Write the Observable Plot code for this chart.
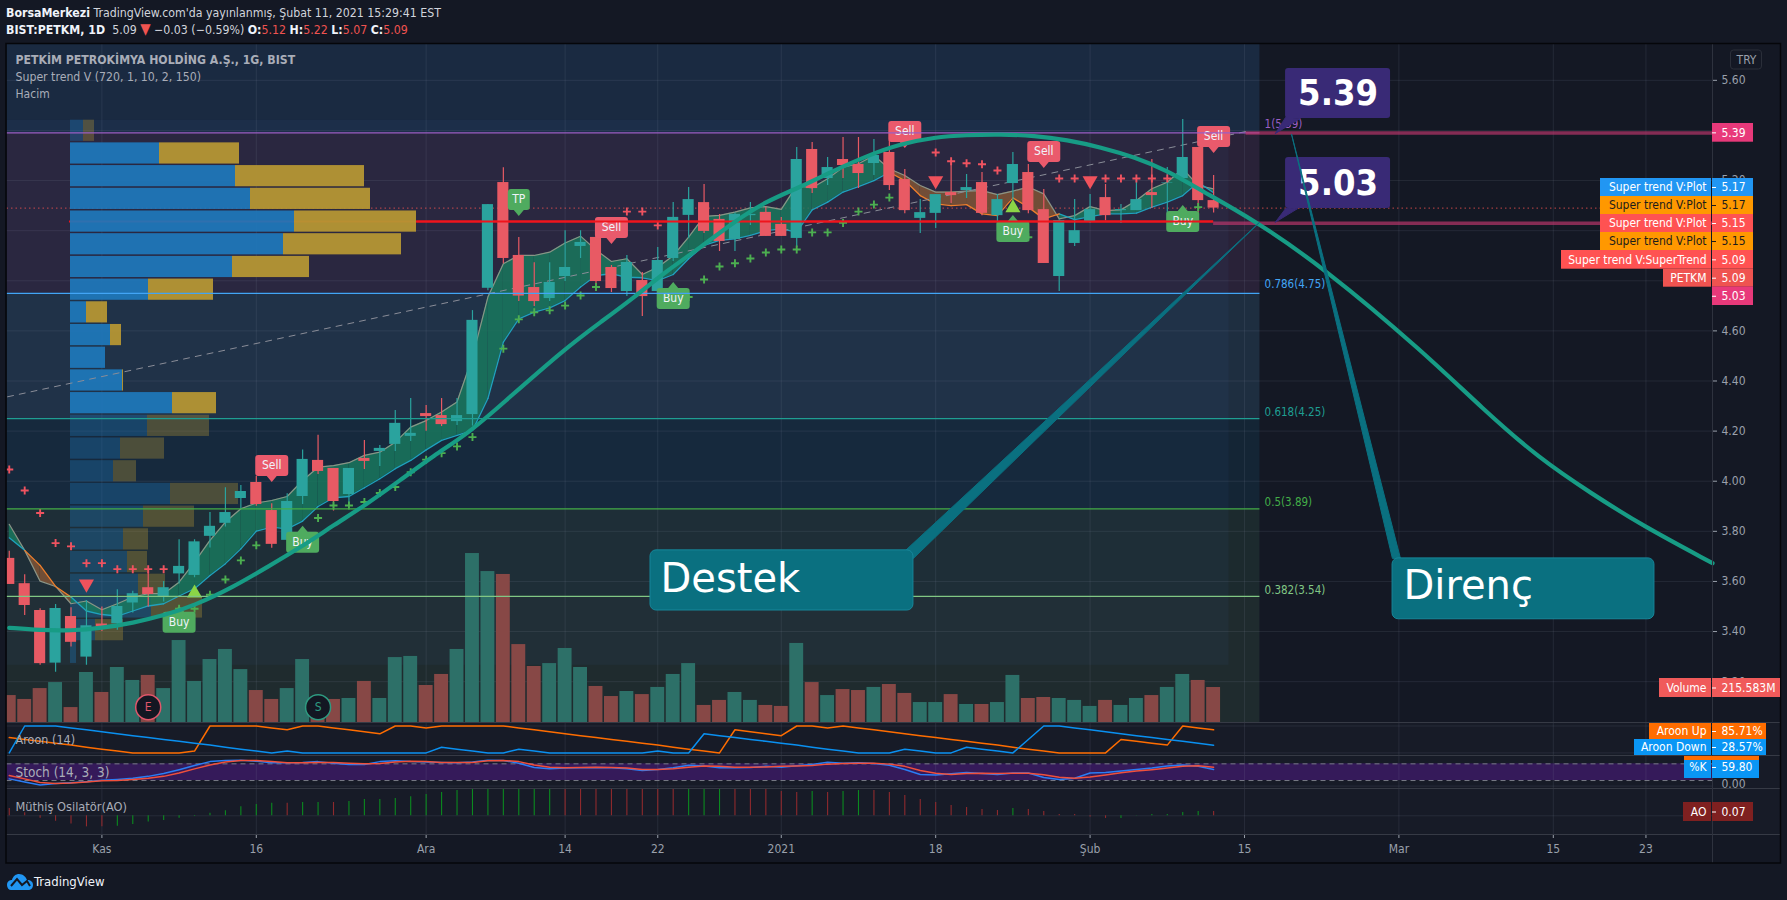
<!DOCTYPE html>
<html><head><meta charset="utf-8">
<script src="https://cdn.jsdelivr.net/npm/d3@7"></script>
<script src="https://cdn.jsdelivr.net/npm/@observablehq/plot@0.6"></script>
<style>
html,body{margin:0;padding:0;background:#141824;overflow:hidden;width:1787px;height:900px}
#stage{position:relative;width:1787px;height:900px;font-family:'DejaVu Sans Condensed','DejaVu Sans',sans-serif}
#stage>svg{position:absolute;left:0;top:0;max-width:none}
.hd{position:absolute;left:6px;font-size:12.25px;color:#d1d4dc;white-space:pre;line-height:16px}
.hd b{color:#f0f3fa;font-weight:700}.hd i{font-style:normal;color:#ef5350}.hd i.t{font-size:15px;line-height:10px}
</style></head><body><div id="stage"></div>
<script>
const barIndex = d3.range(-6, 73);
const open = [3.692,3.591,3.484,3.274,3.46,3.298,3.43,3.431,3.514,3.575,3.54,3.63,3.624,3.78,3.832,3.931,3.995,3.883,3.764,3.939,4.083,4.051,3.947,4.091,4.119,4.147,4.179,4.27,4.262,4.238,4.266,4.77,5.192,4.901,4.773,4.729,4.817,4.937,4.973,4.853,4.757,4.801,4.757,4.889,5.061,5.112,5.045,4.965,5.06,5.073,5.025,4.969,5.324,5.208,5.284,5.264,5.268,5.312,5.204,5.049,5.069,5.152,5.16,5.192,5.06,5.188,5.232,5.084,4.817,4.949,5.037,5.132,5.08,5.08,5.152,5.19,5.208,5.332,5.12];
const high = [3.72,3.627,3.491,3.508,3.495,3.524,3.498,3.567,3.561,3.647,3.6,3.766,3.766,3.875,3.974,3.983,4.019,3.91,3.95,4.125,4.183,4.051,4.051,4.163,4.143,4.282,4.33,4.302,4.33,4.33,4.681,5.104,5.251,4.973,4.872,4.872,5,5,4.98,4.861,4.901,4.833,4.933,5.112,5.172,5.184,5.065,5.07,5.112,5.093,5.053,5.332,5.352,5.292,5.372,5.372,5.364,5.36,5.244,5.124,5.144,5.28,5.224,5.232,5.144,5.312,5.264,5.164,5.044,5.124,5.144,5.184,5.104,5.208,5.284,5.252,5.444,5.332,5.22];
const low = [3.588,3.464,3.265,3.238,3.338,3.265,3.4,3.405,3.474,3.498,3.518,3.59,3.615,3.733,3.817,3.886,3.9,3.732,3.764,3.907,4.027,3.881,3.903,4.047,4.059,4.119,4.159,4.199,4.218,4.222,4.22,4.76,4.868,4.717,4.697,4.717,4.797,4.889,4.785,4.753,4.737,4.657,4.75,4.877,4.969,4.989,4.917,4.917,5.021,4.977,4.977,4.933,5.148,5.18,5.208,5.168,5.22,5.16,5.068,4.989,5.009,5.108,5.128,5.06,5,5.12,5.068,4.869,4.757,4.937,5.03,5.04,5.029,5.08,5.088,5.04,5.2,5.04,5.07];
const close = [3.588,3.504,3.272,3.492,3.357,3.423,3.418,3.5,3.551,3.548,3.575,3.66,3.758,3.82,3.875,3.959,3.907,3.748,3.919,4.087,4.039,3.919,4.051,4.079,4.131,4.231,4.191,4.258,4.226,4.262,4.642,5.104,4.889,4.739,4.717,4.793,4.853,4.953,4.797,4.769,4.873,4.737,4.881,5.053,5.124,4.997,4.957,5.065,5.065,4.977,4.977,5.284,5.168,5.252,5.26,5.228,5.3,5.18,5.08,5.072,5.144,5.14,5.172,5.069,5.124,5.264,5.08,4.869,5.04,5,5.084,5.06,5.084,5.124,5.14,5.192,5.292,5.12,5.09];
const trendFast = [3.828,3.724,3.601,3.58,3.511,3.522,3.487,3.511,3.538,3.551,3.551,3.597,3.677,3.764,3.837,3.89,3.913,3.923,3.939,4.003,4.056,4.062,4.074,4.103,4.116,4.156,4.216,4.242,4.276,4.316,4.495,4.735,4.868,4.901,4.901,4.914,4.951,4.978,4.923,4.877,4.888,4.825,4.854,4.9,4.974,5.057,5.061,5.074,5.091,5.096,5.085,5.18,5.171,5.207,5.253,5.267,5.3,5.247,5.22,5.18,5.154,5.154,5.158,5.16,5.144,5.158,5.174,5.147,5.047,5.06,5.096,5.08,5.083,5.12,5.167,5.193,5.247,5.18,5.167];
const trendSlow = [3.774,3.724,3.664,3.58,3.538,3.482,3.468,3.462,3.482,3.502,3.511,3.542,3.571,3.624,3.671,3.73,3.801,3.817,3.81,3.841,3.899,3.934,3.939,3.974,4.01,4.05,4.083,4.125,4.163,4.183,4.203,4.33,4.555,4.648,4.675,4.692,4.721,4.775,4.821,4.828,4.814,4.812,4.801,4.825,4.888,4.941,4.961,4.967,4.981,5,5.007,4.994,5.083,5.114,5.154,5.176,5.2,5.233,5.2,5.14,5.107,5.1,5.104,5.067,5.06,5.131,5.094,5.047,5.067,5.044,5.056,5.067,5.067,5.07,5.094,5.114,5.14,5.193,5.151];
const volumeM = [166,142,209,246,92,308,185,339,259,290,209,505,253,388,450,326,197,142,209,388,37,142,148,253,148,400,407,228,296,450,1041,930,912,480,345,363,456,339,222,160,191,172,216,296,363,105,136,185,136,105,99,487,246,166,203,197,216,234,179,123,123,172,111,111,123,290,148,154,148,136,99,136,105,148,166,216,296,259,215.583];
const aroonUp = [57,50,43,36,29,21,14,7,0,0,0,0,7,100,100,100,100,93,86,100,100,93,86,79,71,100,100,93,100,100,100,100,100,93,86,79,71,64,57,50,43,36,29,21,14,7,0,86,79,71,64,100,100,93,100,93,86,79,71,64,57,50,43,36,29,21,14,7,0,0,0,0,50,43,36,29,100,93,85.71];
const aroonDown = [0,100,100,100,93,86,79,71,64,57,50,43,36,29,21,14,7,0,7,0,0,0,0,0,0,0,0,0,21,14,7,0,0,14,7,0,0,0,0,0,0,0,7,0,0,71,64,57,50,43,36,29,21,14,7,0,0,0,14,7,0,0,21,14,7,0,50,100,100,93,86,79,71,64,57,50,43,36,28.57];
const stochK = [26,15,4,9,12,16,21,24,28,35,45,59,74,88,92,93,89,84,84,85,88,82,78,78,88,91,88,87,85,84,87,93,92,82,67,62,65,66,67,66,62,56,60,66,75,72,66,66,67,71,68,73,78,86,82,84,81,75,60,42,40,44,49,45,42,47,47,31,24,28,47,49,54,60,65,72,76,71,59.8];
const stochD = [38,26,13,9,11,15,19,20,24,28,35,47,62,76,87,92,92,88,84,84,85,85,82,80,81,87,89,88,85,85,85,91,92,88,76,68,66,67,68,67,65,60,60,62,68,72,71,68,68,69,71,72,74,79,81,82,82,79,71,56,46,42,45,46,45,46,46,41,32,28,33,40,48,54,59,65,71,73,68];
const aoValues = [.12,.05,-.04,-.09,-.135,-.18,-.18,-.17,-.14,-.1,-.076,-.04,-.01,.04,.08,.146,.184,.205,.205,.216,.216,.216,.232,.265,.265,.28,.31,.346,.378,.41,.427,.44,.44,.44,.44,.44,.44,.44,.44,.44,.44,.44,.44,.44,.44,.44,.44,.44,.44,.44,.395,.378,.395,.378,.395,.41,.41,.378,.33,.265,.216,.168,.135,.103,.086,.12,.103,.07,.02,.02,-.02,-.043,-.043,.005,.02,.02,.054,.07,.07];
const aoColorCode = "rrrrrrrgggggggggggrggrggggggggggggggrrrrrrrrgggrrrrrgrggrrrrrrrrrgrrrrrrggggggr";
const bearSpans = [[-5,-2],[51,62]];

const arcI = [-6,-4,-2,0,2,4,6,8.5,10.7,12.9,15,17.2,19.3,21.5,23.7,25.8,30,32.3,34.5,36.6,38.8,40.9,43.1,45.2,47.4,49.6,51.7,53.9,56,58.2,60.4,62.5,64.7,66.9,69,71.2,74.5,79.1,85.7,89.4,93.1,96.5,99.7,104.31];
const arcP = [3.415,3.405,3.403,3.414,3.434,3.464,3.504,3.577,3.657,3.737,3.824,3.91,4.003,4.103,4.19,4.302,4.53,4.635,4.735,4.841,4.934,5.034,5.12,5.173,5.24,5.3,5.346,5.373,5.382,5.384,5.38,5.362,5.333,5.293,5.24,5.16,5.047,4.854,4.51,4.29,4.09,3.95,3.825,3.673];

const upCrossI = [5,6,7,8,9,10,14,15,16,17,18,19,20,21,22,23,24,26,27,28,29,30,31,32,38,39,40,41,42,43,44,45,46,47,48,49,50,51,60,71];
const upCrossP = [3.491,3.491,3.547,3.608,3.684,3.744,3.853,3.903,3.903,3.917,3.953,3.977,4.036,4.086,4.112,4.139,4.176,4.529,4.646,4.674,4.682,4.701,4.741,4.775,4.735,4.805,4.857,4.87,4.889,4.913,4.925,4.925,4.993,4.993,5.031,5.076,5.104,5.132,4.974,5.094];
const downCrossI = [-6,-5,-4,-3,-2,-1,0,1,2,3,4,34,35,36,54,55,56,57,58,62,63,65,66,67,68,69];
const downCrossP = [4.047,3.963,3.873,3.753,3.74,3.673,3.673,3.649,3.649,3.649,3.649,5.076,5.076,5.021,5.312,5.277,5.269,5.265,5.24,5.208,5.208,5.208,5.208,5.208,5.208,5.208];

const signalI = [11,13,27,33,37,52,61,59,70,72,5];
const signalP = [4.063,3.756,5.124,5.013,4.729,5.396,5.316,4.997,5.037,5.376,3.437];
const signalText = ["Sell","Buy","TP","Sell","Buy","Sell","Sell","Buy","Buy","Sell","Buy"];

const fibLevel = [5.39,4.75,4.25,3.89,3.54];
const fibLabel = ["1(5.39)","0.786(4.75)","0.618(4.25)","0.5(3.89)","0.382(3.54)"];
const fibColor = ["#9a5fc4","#42a5f5","#1f9e92","#43ad48","#81c784"];
const priceGrid = [5.6,5.4,5.2,5,4.8,4.6,4.4,4.2,4,3.8,3.6,3.4,3.2];
const priceLabels = [5.6,5.2,4.6,4.4,4.2,4,3.8,3.6,3.4,3.2];
const timeTickI = [0,10,21,30,36,44,54,64,74,84,94,100];
const timeTickLabel = ["Kas","16","Ara","14","22","2021","18","Şub","15","Mar","15","23"];

// volume profile, rows from the top of the range: buy part and sell part
const profileBuy = [13,89,165,180,224,213,162,78,16,40,35,52,102,77,50,43,100,73,53,57,68,81,25,6];
const profileSell = [11,80,129,120,122,118,77,65,21,11,0,1,44,62,44,23,68,51,25,20,27,51,28,0];
const profileDim = [1,0,0,0,0,0,0,0,0,0,0,0,0,1,1,1,1,1,1,1,1,1,1,1];

const W=1787,H=900;
const X0=-6.146,X1=104.31,PM=[3.037,5.745];
const FONT="'DejaVu Sans Condensed','DejaVu Sans',sans-serif";
const stage=document.getElementById("stage");
const base={width:W,height:H,marginLeft:6.5,marginRight:75,style:{background:"transparent",fontFamily:FONT,overflow:"visible"}};
const xs={domain:[X0,X1],axis:null};
function pane(top,bottom,yDomain,marks){
  stage.appendChild(Plot.plot({...base,marginTop:top,marginBottom:H-bottom,x:xs,y:{domain:yDomain,axis:null},marks}));
}
function page(marks){
  stage.appendChild(Plot.plot({width:W,height:H,margin:0,style:base.style,x:{domain:[0,W],range:[0,W],axis:null},y:{domain:[0,H],range:[0,H],axis:null},marks}));
}
const bars=barIndex.map((i,k)=>({i,o:open[k],h:high[k],l:low[k],c:close[k],f:trendFast[k],s:trendSlow[k],v:volumeM[k],au:aroonUp[k],ad:aroonDown[k],k:stochK[k],d:stochD[k],ao:aoValues[k],aoc:aoColorCode[k]}));
const isUp=b=>b.c>=b.o;
const GRID={stroke:"#8f9ab0",strokeOpacity:.13};

/* page background */
page([
  Plot.rect([{a:6.5,b:1780,t:43.5,u:863}],{x1:"a",x2:"b",y1:"t",y2:"u",fill:"#141824"}),
  Plot.rect([{a:6.5,b:1780,t:722,u:834}],{x1:"a",x2:"b",y1:"t",y2:"u",fill:"#171b27"})
]);

/* fib zones, grid, levels */
const zones=[[5.745,5.39,"#1a2a41"],[5.39,4.75,"#292238"],[4.75,4.25,"#1e2e40"],[4.25,3.89,"#142535"],[3.89,3.54,"#1c2a2e"],[3.54,3.037,"#1f2b2e"]]
  .map(([a,b,f])=>({a,b,f}));
pane(43.5,722,PM,[
  ...zones.map(z=>Plot.rect([z],{x1:()=>X0,x2:()=>75,y1:"a",y2:"b",fill:z.f})),
  Plot.rect([{a:5.44,b:3.265}],{x1:()=>X0,x2:()=>73,y1:"a",y2:"b",fill:"#4a7cd0",fillOpacity:.06}),
  Plot.ruleY(priceGrid,{...GRID}),
  Plot.ruleX(timeTickI,{...GRID}),
  Plot.ruleY([5.09],{stroke:"#ef5350",strokeOpacity:.8,strokeDasharray:"1.5 3",x1:()=>X0,x2:()=>97.5}),
  Plot.ruleY([5.037],{stroke:"#f0141c",strokeWidth:2,x1:()=>-2.1,x2:()=>72})
]);

/* volume profile */
const PT=5.444,BIN=.0906;
const profile=profileBuy.map((b,k)=>({b,s:profileSell[k],t:PT-k*BIN,u:PT-(k+1)*BIN,dim:profileDim[k]}));
stage.appendChild(Plot.plot({...base,marginTop:43.5,marginBottom:H-722,marginLeft:70,x:{domain:[0,1642],axis:null},y:{domain:PM,axis:null},marks:[
  Plot.rect(profile,{x1:()=>0,x2:"b",y1:d=>d.t-.003,y2:d=>d.u+.003,fill:"#1e78bc",fillOpacity:d=>d.dim?.34:.92}),
  Plot.rect(profile,{x1:"b",x2:d=>d.b+d.s,y1:d=>d.t-.003,y2:d=>d.u+.003,fill:"#b59634",fillOpacity:d=>d.dim?.34:.95})
]}));

/* volume */
pane(43.5,722,[0,4180],[
  Plot.rect(bars,{x1:d=>d.i-.45,x2:d=>d.i+.45,y1:()=>0,y2:"v",fill:d=>isUp(d)?"#2d7068":"#874846",clip:true})
]);

/* candles + overlays */
const segs=[];
bars.slice(0,-1).forEach((b,k)=>{
  const n=bars[k+1];
  const bear=bearSpans.some(([a,e])=>b.i>=a&&n.i<=e);
  segs.push({seg:k,bear,i:b.i,f:b.f,s:b.s},{seg:k,bear,i:n.i,f:n.f,s:n.s});
});
function tip(w,dir){return {draw(c){
  const h=21,r=3,x=w/2,y=h/2,p=6;
  c.moveTo(-x+r,-y);
  if(dir<0){c.lineTo(-5,-y);c.lineTo(0,-y-p);c.lineTo(5,-y);}
  c.lineTo(x-r,-y);c.quadraticCurveTo(x,-y,x,-y+r);c.lineTo(x,y-r);c.quadraticCurveTo(x,y,x-r,y);
  if(dir>0){c.lineTo(5,y);c.lineTo(0,y+p);c.lineTo(-5,y);}
  c.lineTo(-x+r,y);c.quadraticCurveTo(-x,y,-x,y-r);c.lineTo(-x,-y+r);c.quadraticCurveTo(-x,-y,-x+r,-y);c.closePath();
}}}
const signals=signalI.map((i,k)=>({i,p:signalP[k],t:signalText[k]}));
const boxes=[
 {t:"5.39",x1:76.66,x2:83.46,a:5.647,b:5.448,tx:80.06,ty:5.547},
 {t:"5.03",x1:76.66,x2:83.46,a:5.292,b:5.088,tx:80.06,ty:5.188}];
const wedges=[
 {w:0,i:76,p:5.388},{w:0,i:76.66,p:5.452},{w:0,i:77.62,p:5.448},{w:0,i:76,p:5.388},
 {w:1,i:76,p:5.034},{w:1,i:76.66,p:5.088},{w:1,i:77.44,p:5.088},{w:1,i:76,p:5.034}];
const tealWedges=[
 {w:2,i:74.97,p:5.033},{w:2,i:52.05,p:3.724},{w:2,i:52.56,p:3.692},{w:2,i:74.97,p:5.033},
 {w:3,i:77.05,p:5.384},{w:3,i:83.58,p:3.692},{w:3,i:84.1,p:3.692},{w:3,i:77.05,p:5.384}];
const tealBoxes=[
 {t:"Destek",x1:35.53,x2:52.56,a:3.724,b:3.484,tx:36.18,ty:3.607},
 {t:"Direnç",x1:83.59,x2:100.55,a:3.692,b:3.449,tx:84.3,ty:3.58}];
const TEAL="#0a7080";
const UPC="#2aa39e",DNC="#e85a64";
pane(43.5,722,PM,[
  Plot.areaY(segs.filter(d=>!d.bear),{x:"i",y1:"f",y2:"s",z:"seg",fill:"#187a5e",fillOpacity:.82}),
  Plot.areaY(segs.filter(d=>d.bear),{x:"i",y1:"f",y2:"s",z:"seg",fill:"#7a5236",fillOpacity:.9}),
  Plot.line(bars,{x:"i",y:"f",stroke:"#8a9486",strokeWidth:1.2}),
  Plot.line(segs.filter(d=>!d.bear),{x:"i",y:"s",z:"seg",stroke:"#1fa3bd",strokeWidth:1.3}),
  Plot.line(segs.filter(d=>d.bear),{x:"i",y:"s",z:"seg",stroke:"#ee7f2c",strokeWidth:1.3}),
  Plot.line(d3.range(2),{x:k=>[-6.11,74.4][k],y:k=>[4.337,5.4][k],stroke:"#8a8d98",strokeDasharray:"6 6",strokeWidth:1}),
  Plot.ruleX(bars,{x:"i",y1:"l",y2:"h",stroke:d=>isUp(d)?UPC:DNC,strokeWidth:1.2,clip:true}),
  Plot.rect(bars,{x1:d=>d.i-.36,x2:d=>d.i+.36,y1:"o",y2:"c",fill:d=>isUp(d)?UPC:DNC,clip:true}),
  Plot.dot(upCrossI,{x:d=>d,y:(d,k)=>upCrossP[k],symbol:"plus",r:2.7,stroke:"#4caf50",strokeWidth:1.9}),
  Plot.dot(downCrossI,{x:d=>d,y:(d,k)=>downCrossP[k],symbol:"plus",r:2.7,stroke:"#ef5360",strokeWidth:1.9,clip:true}),
  Plot.dot([[-1,3.59],[54,5.2],[64,5.2]],{x:"0",y:"1",symbol:"triangle",rotate:180,r:5.6,fill:"#f0525c"}),
  Plot.dot([[6,3.553],[59,5.091]],{x:"0",y:"1",symbol:"triangle",r:5.6,fill:"#8bd546"}),
  ...["Sell","Buy","TP"].map(t=>Plot.dot(signals.filter(d=>d.t==t),{x:"i",y:"p",symbol:tip(t=="TP"?22:33,t=="Buy"?-1:1),r:5,fill:t=="Sell"?"#ea5a6c":"#4fab5f",stroke:"none"})),
  Plot.text(signals,{x:"i",y:"p",text:"t",fill:"#f0f3fa",fontSize:12}),
  Plot.dot([{i:3,t:"E"},{i:14,t:"S"}],{x:"i",y:()=>3.098,r:12.5,fill:"#131722",stroke:d=>d.t=="E"?"#e0566a":"#2e9a80",strokeWidth:1.5}),
  Plot.text([{i:3,t:"E"},{i:14,t:"S"}],{x:"i",y:()=>3.098,text:"t",fill:d=>d.t=="E"?"#e0566a":"#2e9a80",fontSize:12}),
  Plot.ruleY([5.037],{stroke:"#f0141c",strokeWidth:2,x1:()=>20.4,x2:()=>72}),
  ...fibLevel.map((l,k)=>Plot.ruleY([l],{stroke:fibColor[k],strokeWidth:1.3,x1:()=>X0,x2:()=>75})),
  Plot.text(fibLevel.slice(0,2),{x:()=>75.3,y:d=>d,dy:-9,text:(d,k)=>fibLabel[k],textAnchor:"start",fill:(d,k)=>fibColor[k],fontSize:11.5}),
  Plot.text(fibLevel.slice(2),{x:()=>75.3,y:d=>d,dy:-6.5,text:(d,k)=>fibLabel[k+2],textAnchor:"start",fill:(d,k)=>fibColor[k+2],fontSize:11.5}),
  Plot.ruleY([5.39],{stroke:"#c2386e",strokeOpacity:.65,strokeWidth:3.5,x1:()=>74.1,x2:()=>X1}),
  Plot.ruleY([5.03],{stroke:"#c2386e",strokeOpacity:.65,strokeWidth:3.5,x1:()=>72,x2:()=>X1}),
  Plot.line(arcI,{x:d=>d,y:(d,k)=>arcP[k],curve:"basis",stroke:"#179c85",strokeWidth:4.2}),
  Plot.line(wedges,{x:"i",y:"p",z:"w",fill:"#392a76",stroke:"#392a76",strokeWidth:1}),
  Plot.rect(boxes,{x1:"x1",x2:"x2",y1:"a",y2:"b",fill:"#392a76",rx:3}),
  Plot.text(boxes,{x:"tx",y:"ty",text:"t",fill:"#fff",fontSize:36,fontWeight:700,fontFamily:"DejaVu Sans Condensed"}),
  Plot.line(tealWedges,{x:"i",y:"p",z:"w",fill:TEAL,stroke:TEAL,strokeWidth:1}),
  Plot.rect(tealBoxes,{x1:"x1",x2:"x2",y1:"a",y2:"b",fill:TEAL,stroke:"#17879a",rx:6}),
  Plot.text(tealBoxes,{x:"tx",y:"ty",text:"t",textAnchor:"start",fill:"#fff",fontSize:40,fontFamily:"DejaVu Sans"}),
  Plot.axisY(priceLabels,{anchor:"right",tickSize:4,tickPadding:5,tickFormat:d3.format(".2f"),label:null,color:"#9aa0ab",fontSize:12})
]);

/* Aroon */
pane(722,755,[-9.6,113],[
  Plot.ruleX(timeTickI,{...GRID}),
  Plot.ruleY([0,100],{...GRID}),
  Plot.line(bars,{x:"i",y:"au",stroke:"#ff6d00",strokeWidth:1.5}),
  Plot.line(bars,{x:"i",y:"ad",stroke:"#0a90f0",strokeWidth:1.5})
]);
/* Stoch */
pane(755,788,[-8.6,110],[
  Plot.rect([{a:20,b:80}],{x1:()=>X0,x2:()=>X1,y1:"a",y2:"b",fill:"#351a5a"}),
  Plot.ruleX(timeTickI,{...GRID}),
  Plot.ruleY([0],{...GRID}),
  Plot.ruleY([20,80],{stroke:"#787b86",strokeDasharray:"5 4"}),
  Plot.line(bars,{x:"i",y:"k",stroke:"#2a7df5",strokeWidth:1.5}),
  Plot.line(bars,{x:"i",y:"d",stroke:"#f0503c",strokeWidth:1.5})
]);
/* AO + time axis */
pane(788,834,[-.304,.443],[
  Plot.ruleX(timeTickI,{...GRID}),
  Plot.ruleY([0],{...GRID}),
  Plot.ruleX(bars,{x:"i",y1:()=>0,y2:"ao",stroke:d=>d.aoc=="g"?"#0b8a1f":"#8f2a2d",strokeWidth:1.1}),
  Plot.axisX(timeTickI,{anchor:"bottom",tickSize:4,tickPadding:6,tickFormat:(d,k)=>timeTickLabel[k],label:null,color:"#9aa0ab",fontSize:12})
]);

/* frame, separators, tags, legends */
const tags=[
 {n:"",v:"5.39",t:123,u:141.7,x:1712,e:1753,bg:"#e8397a",fg:"#fff"},
 {n:"Super trend V:Plot",v:"5.17",t:178,u:196,x:1600,e:1753,bg:"#2196f3",fg:"#fff"},
 {n:"Super trend V:Plot",v:"5.17",t:196,u:214,x:1600,e:1753,bg:"#ff9800",fg:"#1c1c1c"},
 {n:"Super trend V:Plot",v:"5.15",t:214,u:232,x:1600,e:1753,bg:"#ff5252",fg:"#fff"},
 {n:"Super trend V:Plot",v:"5.15",t:232,u:250,x:1600,e:1753,bg:"#ff9800",fg:"#1c1c1c"},
 {n:"Super trend V:SuperTrend",v:"5.09",t:250,u:268.7,x:1561,e:1753,bg:"#ff5252",fg:"#fff"},
 {n:"PETKM",v:"5.09",t:268.7,u:286.7,x:1663,e:1753,bg:"#ef5350",fg:"#fff"},
 {n:"",v:"5.03",t:286.5,u:305,x:1712,e:1753,bg:"#e8397a",fg:"#fff"},
 {n:"Volume",v:"215.583M",t:678,u:697,x:1659,e:1780,bg:"#f05a5a",fg:"#fff"},
 {n:"Aroon Up",v:"85.71%",t:723,u:739,x:1649,e:1766,bg:"#ff6d00",fg:"#fff"},
 {n:"Aroon Down",v:"28.57%",t:739,u:755,x:1634,e:1766,bg:"#0a96f5",fg:"#fff"},
 {n:"%K",v:"59.80",t:756,u:778,x:1684,e:1759,bg:"#0a96f5",fg:"#fff"},
 {n:"AO",v:"0.07",t:802,u:821,x:1683,e:1753,bg:"#7f2020",fg:"#fff"}
].map(d=>({...d,m:(d.t+d.u)/2}));
const legBold=[{x:15,y:60,t:"PETKİM PETROKİMYA HOLDİNG A.Ş., 1G, BIST"}];
const leg=[
 {x:15,y:77,t:"Super trend V (720, 1, 10, 2, 150)",fs:12.2},
 {x:15,y:94,t:"Hacim",fs:12},
 {x:15,y:739,t:"Aroon (14)",fs:12.5},
 {x:15,y:772.5,t:"Stoch (14, 3, 3)",fs:13.5},
 {x:15,y:806,t:"Müthiş Osilatör(AO)",fs:12.7}];
page([
  Plot.text([{t:"0.00"}],{x:()=>1721,y:()=>784,text:"t",textAnchor:"start",fill:"#9aa0ab",fontSize:12}),
  Plot.ruleY([722,755,788,834],{x1:()=>6.5,x2:()=>1780,stroke:"#363a45"}),
  Plot.ruleX([1712],{y1:()=>43.5,y2:()=>863,stroke:"#2e323e"}),
  Plot.rect([{}],{x1:()=>6,x2:()=>1780.5,y1:()=>43.5,y2:()=>863,fill:"none",stroke:"#05060a",strokeWidth:1.5}),
  Plot.rect([{}],{x1:()=>1730.5,x2:()=>1761.5,y1:()=>50,y2:()=>69,fill:"none",stroke:"#2a2e39",strokeWidth:1,rx:3}),
  Plot.text(["TRY"],{x:()=>1746,y:()=>60,text:d=>d,fill:"#9aa0ab",fontSize:12}),
  Plot.text(legBold,{x:"x",y:"y",text:"t",textAnchor:"start",fill:"#a9adb8",fontSize:12.2,fontWeight:700}),
  Plot.text(leg,{x:"x",y:"y",text:"t",textAnchor:"start",fill:"#a9adb8",fontSize:"fs"}),
  Plot.rect(tags.filter(d=>d.n),{x1:"x",x2:()=>1711,y1:"t",y2:"u",fill:"bg"}),
  Plot.rect(tags,{x1:()=>1712,x2:"e",y1:"t",y2:"u",fill:"bg"}),
  Plot.rect(tags.filter(d=>d.n=="%K"),{x1:"x",x2:"e",y1:"t",y2:d=>d.t+4,fill:"#ff6d00"}),
  Plot.text(tags.filter(d=>d.n),{x:()=>1706,y:"m",text:"n",textAnchor:"end",fill:"fg",fontSize:12}),
  Plot.text(tags,{x:()=>1721,y:"m",text:"v",textAnchor:"start",fill:"fg",fontSize:12}),
  Plot.ruleY(tags,{y:"m",x1:()=>1712,x2:()=>1716,stroke:"fg"})
]);

/* header + footer as page text */
stage.insertAdjacentHTML("beforeend",`
<div class="hd" style="top:4.5px"><b>BorsaMerkezi</b> TradingView.com'da yayınlanmış, Şubat 11, 2021 15:29:41 EST</div>
<div class="hd" style="top:21.5px"><b>BIST:PETKM, 1D</b>  5.09 <i class="t">▼</i> −0.03 (−0.59%) <b>O:</b><i>5.12</i> <b>H:</b><i>5.22</i> <b>L:</b><i>5.07</i> <b>C:</b><i>5.09</i></div>
<svg width="28" height="18" viewBox="0 0 28 18" style="left:6px;top:873px"><path d="M1 12 C1 8 4 7 6 7 C7 3 10 1 13 1 C17 1 20 4 21 7 C25 7 27 9 27 12 C27 15 25 17 22 17 L5 17 C3 17 1 15 1 12Z" fill="#2196f3"/><path d="M5 13 L11 6 L16 12 L21 8 L24 13" fill="none" stroke="#141824" stroke-width="2"/></svg>
<div class="hd" style="left:34px;top:873.5px;color:#f0f3fa;font-size:13px">TradingView</div>`);
</script></body></html>
